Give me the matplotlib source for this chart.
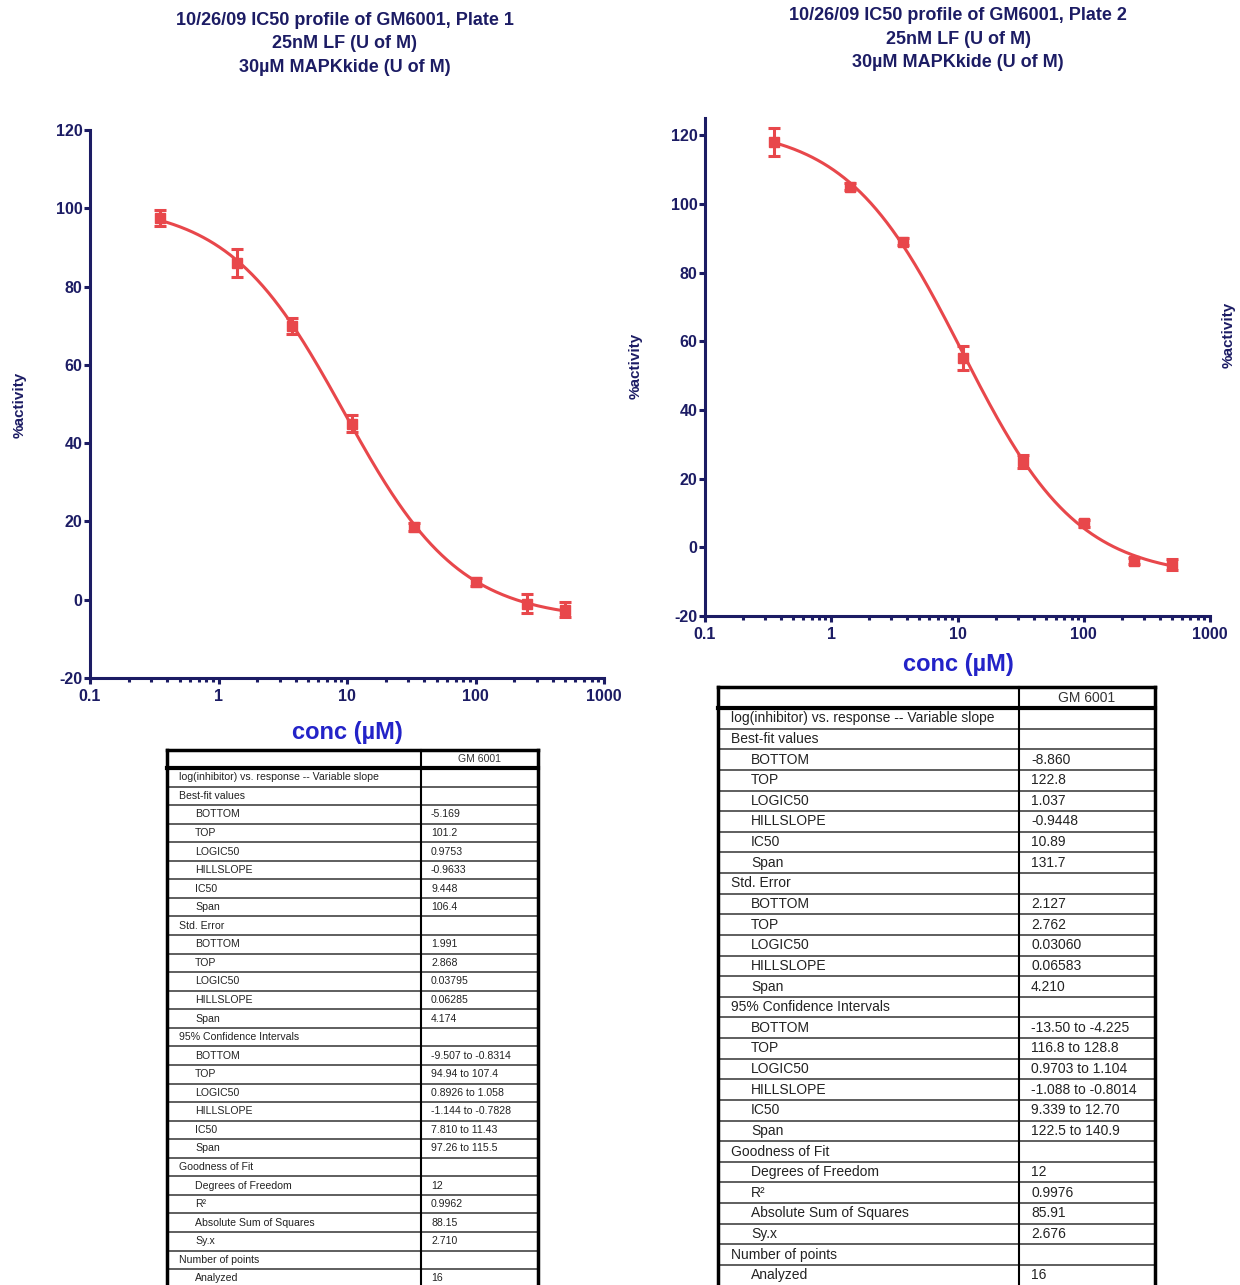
import numpy as np
import matplotlib
matplotlib.use("Agg")
import matplotlib.pyplot as plt
from matplotlib.ticker import LogLocator, NullFormatter

plt.rcParams['font.family'] = ['Liberation Sans', 'DejaVu Sans']
plt.rcParams['axes.unicode_minus'] = False

# ---- data ----
conc = [0.35, 1.4, 3.7, 11, 33, 100, 250, 500]

p1_y = [97.5, 86, 70, 45, 18.5, 4.5, -1, -2.5]
p1_err = [2, 3.5, 2, 2.2, 1, 1, 2.5, 2]

p2_y = [118, 105, 89, 55, 25, 7, -4, -5]
p2_err = [4, 1, 1, 3.5, 2, 1, 1, 1.5]

# fit parameters (from the results tables)
p1_fit = dict(bottom=-5.169, top=101.2, logic50=0.9753, hill=-0.9633)
p2_fit = dict(bottom=-8.860, top=122.8, logic50=1.037, hill=-0.9448)

row_labels = ["log(inhibitor) vs. response -- Variable slope", "Best-fit values",
              "BOTTOM", "TOP", "LOGIC50", "HILLSLOPE", "IC50", "Span",
              "Std. Error", "BOTTOM", "TOP", "LOGIC50", "HILLSLOPE", "Span",
              "95% Confidence Intervals", "BOTTOM", "TOP", "LOGIC50", "HILLSLOPE", "IC50", "Span",
              "Goodness of Fit", "Degrees of Freedom", "R²", "Absolute Sum of Squares", "Sy.x",
              "Number of points", "Analyzed"]
section_rows = [0, 1, 8, 14, 21, 26]

p1_vals = ["", "", "-5.169", "101.2", "0.9753", "-0.9633", "9.448", "106.4",
           "", "1.991", "2.868", "0.03795", "0.06285", "4.174",
           "", "-9.507 to -0.8314", "94.94 to 107.4", "0.8926 to 1.058", "-1.144 to -0.7828",
           "7.810 to 11.43", "97.26 to 115.5",
           "", "12", "0.9962", "88.15", "2.710", "", "16"]
p2_vals = ["", "", "-8.860", "122.8", "1.037", "-0.9448", "10.89", "131.7",
           "", "2.127", "2.762", "0.03060", "0.06583", "4.210",
           "", "-13.50 to -4.225", "116.8 to 128.8", "0.9703 to 1.104", "-1.088 to -0.8014",
           "9.339 to 12.70", "122.5 to 140.9",
           "", "12", "0.9976", "85.91", "2.676", "", "16"]

titles = ["10/26/09 IC50 profile of GM6001, Plate 1\n25nM LF (U of M)\n30µM MAPKkide (U of M)",
          "10/26/09 IC50 profile of GM6001, Plate 2\n25nM LF (U of M)\n30µM MAPKkide (U of M)"]

NAVY = '#1c1c64'
RED = '#e8474b'
BLUE = '#2323c8'

W, H = 1240, 1285
fig = plt.figure(figsize=(W / 100, H / 100), dpi=100)


def frac(x0, y0, x1, y1):
    return [x0 / W, 1 - y1 / H, (x1 - x0) / W, (y1 - y0) / H]


def curve(p, x):
    lx = np.log10(x)
    return p['bottom'] + (p['top'] - p['bottom']) / (1 + 10 ** ((p['logic50'] - lx) * p['hill']))


def make_plot(rect, y, err, fit, ymax, yticks):
    ax = fig.add_axes(rect)
    ax.set_xscale('log')
    ax.set_xlim(0.1, 1000)
    ax.set_ylim(-20, ymax)
    xs = np.logspace(np.log10(conc[0]), np.log10(conc[-1]), 300)
    ax.plot(xs, curve(fit, xs), color=RED, lw=2.2, zorder=2)
    ax.errorbar(conc, y, yerr=err, fmt='s', color=RED, ms=7.5, capsize=4,
                elinewidth=2.2, capthick=2.2, zorder=3)
    for s in ['top', 'right']:
        ax.spines[s].set_visible(False)
    for s in ['left', 'bottom']:
        ax.spines[s].set_color(NAVY)
        ax.spines[s].set_linewidth(2.2)
    ax.set_yticks(yticks)
    ax.set_xticks([0.1, 1, 10, 100, 1000])
    ax.set_xticklabels(['0.1', '1', '10', '100', '1000'])
    ax.xaxis.set_minor_locator(LogLocator(base=10, subs=np.arange(2, 10)))
    ax.xaxis.set_minor_formatter(NullFormatter())
    ax.tick_params(axis='both', which='major', colors=NAVY, width=2.2, length=4,
                   labelsize=11.5, direction='out', pad=1.5)
    ax.tick_params(axis='x', which='major', pad=4)
    ax.tick_params(axis='x', which='minor', colors=NAVY, width=2.2, length=3)
    for lab in ax.get_xticklabels() + ax.get_yticklabels():
        lab.set_fontweight('bold')
        lab.set_color(NAVY)
    ax.set_facecolor('none')
    return ax


ax1 = make_plot(frac(90, 130, 604, 678), p1_y, p1_err, p1_fit, 120, range(-20, 121, 20))
ax2 = make_plot(frac(705, 118, 1210, 616), p2_y, p2_err, p2_fit, 125, range(-20, 121, 20))

# overlay for text and tables, in pixel coordinates
ov = fig.add_axes([0, 0, 1, 1], zorder=-1)
ov.set_xlim(0, W)
ov.set_ylim(H, 0)
ov.axis('off')

ov.text(345, 44, titles[0], ha='center', va='center', fontsize=13, fontweight='bold',
        color=NAVY, linespacing=1.5)
ov.text(958, 39, titles[1], ha='center', va='center', fontsize=13, fontweight='bold',
        color=NAVY, linespacing=1.5)

ov.text(347, 732, 'conc (µM)', ha='center', va='center', fontsize=17, fontweight='bold', color=BLUE)
ov.text(958, 664, 'conc (µM)', ha='center', va='center', fontsize=17, fontweight='bold', color=BLUE)

ov.text(20, 405, '%activity', ha='center', va='center', rotation=90, fontsize=11,
        fontweight='bold', color=NAVY)
ov.text(636, 366, '%activity', ha='center', va='center', rotation=90, fontsize=11,
        fontweight='bold', color=NAVY)
ov.text(1229, 335, '%activity', ha='center', va='center', rotation=90, fontsize=11,
        fontweight='bold', color=NAVY)


def draw_table(x0, x1, xs, ytop, head_h, row_h, vals, fs, cat_x, sub_x, val_x):
    n = len(row_labels)
    ybot = ytop + head_h + n * row_h
    body_top = ytop + head_h
    for i, lab in enumerate(row_labels):
        yc = body_top + (i + 0.5) * row_h
        tx = cat_x if i in section_rows else sub_x
        ov.text(tx, yc, lab, ha='left', va='center', fontsize=fs, color='#222222')
        ov.text(val_x, yc, vals[i], ha='left', va='center', fontsize=fs, color='#222222')
        ov.plot([x0, x1], [body_top + (i + 1) * row_h] * 2, color='#333333', lw=1.1)
    ov.text((xs + x1) / 2, ytop + head_h / 2, 'GM 6001', ha='center', va='center',
            fontsize=fs, color='#333333')
    ov.plot([x0, x1], [ytop, ytop], color='black', lw=2.5)
    ov.plot([x0, x1], [body_top, body_top], color='black', lw=3)
    ov.plot([x0, x0], [ytop, ybot], color='black', lw=2.5)
    ov.plot([x1, x1], [ytop, ybot], color='black', lw=2.5)
    ov.plot([xs, xs], [ytop, ybot], color='black', lw=1.5)


draw_table(167, 538, 421, 750, 18, 18.56, p1_vals, 7.6, 179, 195, 431)
draw_table(718, 1155, 1019, 687, 21, 20.63, p2_vals, 10, 731, 751, 1031)

fig.savefig('out.png', dpi=100)
